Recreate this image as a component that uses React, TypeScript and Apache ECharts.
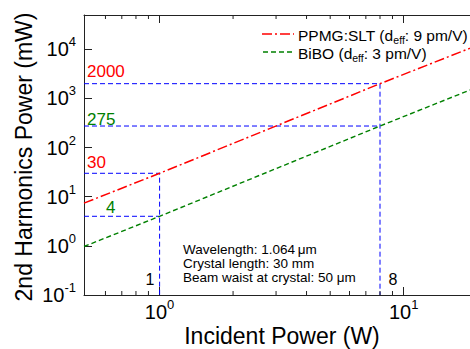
import React, { useEffect, useRef } from "react";
import * as echarts from "echarts";

const X_MIN = 0.49;
const X_MAX = 18.7;
const Y_MIN = 0.1;
const Y_MAX = 50000;

const ppmgX = [0.49, 1, 8, 20];
const ppmgY = [7.4, 30, 2000, 12000];
const biboX = [0.49, 1, 8, 20];
const biboY = [0.97, 4, 275, 1700];

const guide30X = [0.49, 1, 1];
const guide30Y = [30, 30, 0.1];
const guide4X = [0.49, 1];
const guide4Y = [4, 4];
const guide2000X = [0.49, 8, 8];
const guide2000Y = [2000, 2000, 0.1];
const guide275X = [0.49, 8];
const guide275Y = [275, 275];

const xMinorTicks = [0.6, 0.7, 0.8, 0.9, 2, 3, 4, 5, 6, 7, 8, 9];

const noteLines = ["Wavelength: 1.064\u2009μm", "Crystal length: 30 mm", "Beam waist at crystal: 50 μm"];

const FONT = "'Liberation Sans', Arial, Helvetica, sans-serif";
const RED = "#ff0000";
const GREEN = "#008000";
const BLUE = "#0000ff";

const zip = (xs: number[], ys: number[]) => xs.map((x, i) => [x, ys[i]]);

const powLabel = (v: number) => {
  const e = Math.round(Math.log10(v));
  if (Math.abs(Math.log10(v) - e) > 1e-6) return "";
  return "{b|10}{s|" + e + "}";
};

const richPow = {
  b: { fontSize: 20, lineHeight: 28, fontFamily: FONT, color: "#000" },
  s: { fontSize: 13, lineHeight: 13, verticalAlign: "top", fontFamily: FONT, color: "#000" },
};

const legendRich = {
  n: { fontSize: 15.5, lineHeight: 20, fontFamily: FONT, fill: "#000" },
  sub: { fontSize: 10.5, lineHeight: 10, verticalAlign: "bottom", fontFamily: FONT, fill: "#000" },
};

export default function App() {
  const ref = useRef<HTMLDivElement>(null);
  useEffect(() => {
    if (!ref.current) return;
    const chart = echarts.init(ref.current, null, { renderer: "svg" });
    const guideStyle = { color: BLUE, width: 1, type: [5, 3] as any };
    const option: any = {
      animation: false,
      backgroundColor: "#fff",
      grid: { left: 84, top: 15, bottom: 54, right: 0, containLabel: false, outerBoundsMode: "none" },
      xAxis: [
        {
          type: "log",
          logBase: 10,
          min: X_MIN,
          max: X_MAX,
          axisLine: { show: true, lineStyle: { color: "#222", width: 1 } },
          axisTick: { show: true, inside: true, length: 8, lineStyle: { color: "#222" } },
          axisLabel: { formatter: powLabel, rich: richPow, margin: 3, hideOverlap: false },
          splitLine: { show: false },
        },
        {
          type: "log",
          logBase: 10,
          min: X_MIN,
          max: X_MAX,
          position: "top",
          axisLine: { show: true, lineStyle: { color: "#222", width: 1 } },
          axisTick: { show: true, inside: true, length: 8, lineStyle: { color: "#222" } },
          axisLabel: { show: false },
          splitLine: { show: false },
        },
      ],
      yAxis: {
        type: "log",
        logBase: 10,
        min: Y_MIN,
        max: Y_MAX,
        axisLine: { show: true, lineStyle: { color: "#222", width: 1 } },
        axisTick: { show: true, inside: true, length: 8, lineStyle: { color: "#222" } },
        axisLabel: { formatter: powLabel, rich: richPow, margin: 8, hideOverlap: false },
        splitLine: { show: false },
      },
      series: [
        { type: "line", data: zip(guide30X, guide30Y), symbol: "none", lineStyle: guideStyle, z: 2 },
        { type: "line", data: zip(guide4X, guide4Y), symbol: "none", lineStyle: guideStyle, z: 2 },
        { type: "line", data: zip(guide2000X, guide2000Y), symbol: "none", lineStyle: guideStyle, z: 2 },
        { type: "line", data: zip(guide275X, guide275Y), symbol: "none", lineStyle: guideStyle, z: 2 },
        {
          name: "PPMG:SLT",
          type: "line",
          data: zip(ppmgX, ppmgY),
          symbol: "none",
          lineStyle: { color: RED, width: 1.5, type: [10, 3, 2, 3] },
          z: 3,
        },
        {
          name: "BiBO",
          type: "line",
          data: zip(biboX, biboY),
          symbol: "none",
          lineStyle: { color: GREEN, width: 1.4, type: [5, 3] },
          z: 3,
        },
        {
          type: "custom",
          data: xMinorTicks.map((v) => [v, Y_MIN]),
          renderItem: (params: any, api: any) => {
            const v = api.value(0);
            const b = api.coord([v, Y_MIN]);
            const t = api.coord([v, Y_MAX]);
            return {
              type: "group",
              children: [
                {
                  type: "line",
                  shape: { x1: b[0], y1: b[1], x2: b[0], y2: b[1] - 4 },
                  style: { stroke: "#222", lineWidth: 1 },
                },
                {
                  type: "line",
                  shape: { x1: t[0], y1: t[1], x2: t[0], y2: t[1] + 4 },
                  style: { stroke: "#222", lineWidth: 1 },
                },
              ],
            };
          },
          z: 4,
        },
      ],
      graphic: [
        {
          type: "text",
          x: 24,
          y: 157,
          rotation: Math.PI / 2,
          style: {
            text: "2nd Harmonics Power (mW)",
            font: `23px ${FONT}`,
            fill: "#000",
            textAlign: "center",
            textVerticalAlign: "middle",
          },
        },
        {
          type: "text",
          x: 282,
          y: 336,
          style: {
            text: "Incident Power (W)",
            font: `23px ${FONT}`,
            fill: "#000",
            textAlign: "center",
            textVerticalAlign: "middle",
          },
        },
        { type: "text", x: 87, y: 71, style: { text: "2000", font: `17px ${FONT}`, fill: RED, textVerticalAlign: "middle" } },
        { type: "text", x: 87, y: 119, style: { text: "275", font: `17px ${FONT}`, fill: GREEN, textVerticalAlign: "middle" } },
        { type: "text", x: 87, y: 162, style: { text: "30", font: `17px ${FONT}`, fill: RED, textVerticalAlign: "middle" } },
        { type: "text", x: 106, y: 207, style: { text: "4", font: `17px ${FONT}`, fill: GREEN, textVerticalAlign: "middle" } },
        { type: "text", x: 150, y: 279, style: { text: "1", font: `16px ${FONT}`, fill: "#000", textAlign: "center", textVerticalAlign: "middle" } },
        { type: "text", x: 393, y: 279, style: { text: "8", font: `16px ${FONT}`, fill: "#000", textAlign: "center", textVerticalAlign: "middle" } },
        ...noteLines.map((t, i) => ({
          type: "text",
          x: 183,
          y: 249 + i * 14,
          style: { text: t, font: `13.5px ${FONT}`, fill: "#000", textVerticalAlign: "middle" },
        })),
        {
          type: "line",
          shape: { x1: 262, y1: 34, x2: 294, y2: 34 },
          style: { stroke: RED, lineWidth: 1.5, lineDash: [10, 3, 2, 3] },
        },
        {
          type: "line",
          shape: { x1: 263, y1: 52, x2: 294, y2: 52 },
          style: { stroke: GREEN, lineWidth: 1.4, lineDash: [5, 3] },
        },
        {
          type: "text",
          x: 298,
          y: 25,
          style: { text: "{n|PPMG:SLT (d}{sub|eff}{n|: 9 pm/V)}", rich: legendRich },
        },
        {
          type: "text",
          x: 298,
          y: 43,
          style: { text: "{n|BiBO (d}{sub|eff}{n|: 3 pm/V)}", rich: legendRich },
        },
      ],
    };
    chart.setOption(option);
    return () => chart.dispose();
  }, []);
  return (
    <div
      ref={ref}
      style={{ position: "absolute", left: 0, top: 0, width: 470, height: 349, background: "#fff" }}
    />
  );
}
